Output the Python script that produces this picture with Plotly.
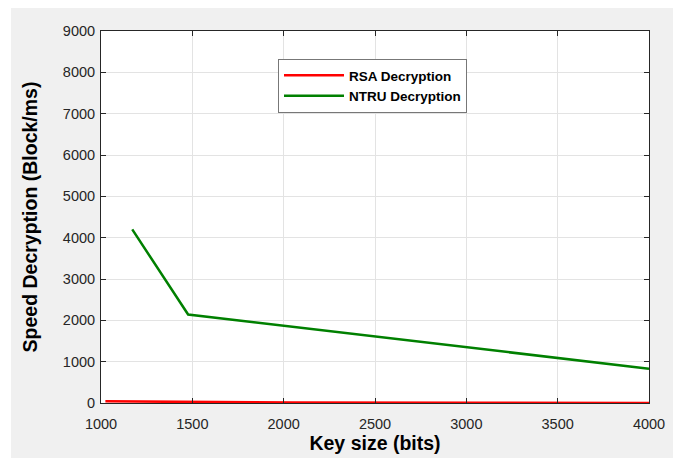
import plotly.graph_objects as go

# Data
rsa_keys = [1024, 1500, 2048, 3072, 4000]
rsa_speed = [40, 22, 10, 4, 2]
ntru_keys = [1171, 1477, 4000]
ntru_speed = [4200, 2140, 830]

x_ticks = [1000, 1500, 2000, 2500, 3000, 3500, 4000]
y_ticks = [0, 1000, 2000, 3000, 4000, 5000, 6000, 7000, 8000, 9000]

W, H = 673, 458
L, R, T, B = 101, 24, 31, 55
pw, ph = W - L - R, H - T - B

FONT = "Liberation Sans, Arial"

fig = go.Figure()
fig.add_trace(go.Scatter(x=rsa_keys, y=rsa_speed, mode="lines", name="<b>RSA Decryption</b>",
                         line=dict(color="#ff0000", width=2.5)))
fig.add_trace(go.Scatter(x=ntru_keys, y=ntru_speed, mode="lines", name="<b>NTRU Decryption</b>",
                         line=dict(color="#008000", width=2.5)))

axis_common = dict(showgrid=True, gridcolor="#e3e3e3", gridwidth=1, automargin=False,
                   showline=True, linecolor="#262626", linewidth=1, mirror="ticks",
                   ticks="inside", ticklen=5, tickcolor="#262626", zeroline=False,
                   tickfont=dict(family=FONT, size=14.5, color="#262626"))

fig.update_xaxes(range=[1000, 4000], tickvals=x_ticks, ticktext=[str(v) for v in x_ticks],
                 ticklabelstandoff=8,
                 title=dict(text="<b>Key size (bits)</b>", standoff=2,
                            font=dict(family=FONT, size=19.5, color="#000000")),
                 **axis_common)
fig.update_yaxes(range=[0, 9000], tickvals=y_ticks, ticktext=[str(v) for v in y_ticks],
                 ticklabelstandoff=2,
                 title=dict(text="<b>Speed Decryption (Block/ms)</b>", standoff=20,
                            font=dict(family=FONT, size=19.5, color="#000000")),
                 **axis_common)

fig.update_layout(
    width=W, height=H,
    margin=dict(l=L, r=R, t=T, b=B),
    paper_bgcolor="#f0f0f0", plot_bgcolor="#ffffff",
    showlegend=True,
    legend=dict(x=(278 - L) / pw, y=(H - B - 59) / ph, xanchor="left", yanchor="top",
                bgcolor="#ffffff", bordercolor="#777777", borderwidth=1,
                font=dict(family=FONT, size=13.5, color="#000000"),
                tracegroupgap=0, itemwidth=60),
    shapes=[
        dict(type="rect", xref="paper", yref="paper", x0=-L / pw - 0.01, x1=(11 - L) / pw,
             y0=-B / ph - 0.01, y1=1 + T / ph + 0.01, fillcolor="#ffffff", line=dict(width=0)),
        dict(type="rect", xref="paper", yref="paper", x0=-L / pw - 0.01, x1=1 + R / pw + 0.01,
             y0=1 + (T - 8) / ph, y1=1 + T / ph + 0.01, fillcolor="#ffffff", line=dict(width=0)),
    ],
)

fig.write_html("out.html")
